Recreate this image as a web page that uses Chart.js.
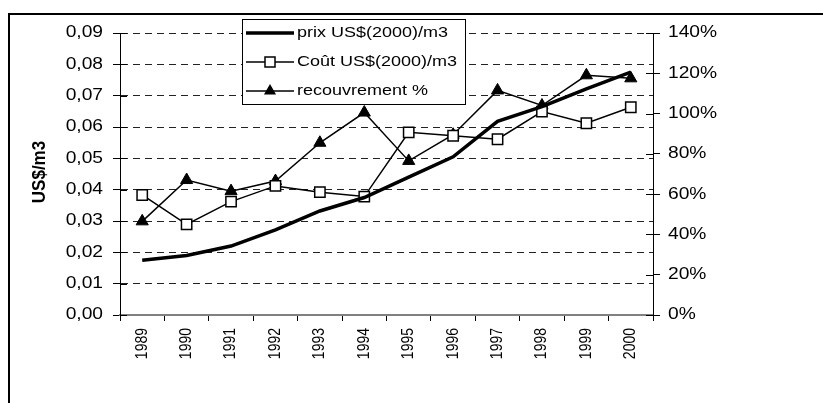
<!DOCTYPE html>
<html>
<head>
<meta charset="utf-8">
<script src="https://cdn.jsdelivr.net/npm/chart.js@4/dist/chart.umd.min.js"></script>
<style>
body { margin: 0; background: #fff; overflow: hidden; }
#frame { position: absolute; left: 8px; top: 13px; width: 900px; height: 500px; border-top: 2px solid #000; border-left: 2px solid #000; }
#wrap { position: absolute; left: 0; top: 0; width: 823px; height: 403px; }
</style>
</head>
<body>
<div id="frame"></div>
<div id="wrap"><canvas id="chart" width="823" height="403"></canvas></div>
<script>
const years = ['1989', '1990', '1991', '1992', '1993', '1994', '1995', '1996', '1997', '1998', '1999', '2000'];
const prix = [0.0175, 0.0190, 0.0220, 0.0272, 0.0332, 0.0375, 0.0440, 0.0505, 0.0618, 0.0665, 0.0722, 0.0775];
const cout = [0.0383, 0.0289, 0.0362, 0.0412, 0.0392, 0.0378, 0.0583, 0.0572, 0.0561, 0.0649, 0.0612, 0.0663];
const recouvrement = [46.5, 67, 61.5, 66.5, 85.5, 100.5, 76.5, 89.5, 111.5, 104, 119, 117.5];
const leftTicks = ['0,00', '0,01', '0,02', '0,03', '0,04', '0,05', '0,06', '0,07', '0,08', '0,09'];
const rightTicks = ['0%', '20%', '40%', '60%', '80%', '100%', '120%', '140%'];
const legendLabels = ['prix US$(2000)/m3', 'Coût US$(2000)/m3', 'recouvrement %'];

const FONT = '"Liberation Sans", Arial, sans-serif';

// text in the picture is a bit wider than the font, so scale it
function wideText(c, txt, x, y, align, sx) {
    c.save();
    c.translate(x, y);
    c.scale(sx, 1);
    c.textAlign = align;
    c.fillText(txt, 0, 0);
    c.restore();
}

function upText(c, txt, x, y, align, sy) {
    c.save();
    c.translate(x, y);
    c.rotate(-Math.PI / 2);
    c.scale(1, sy);
    c.textAlign = align;
    c.fillText(txt, 0, 0);
    c.restore();
}

function marker(c, style, x, y) {
    c.save();
    c.lineWidth = 1.5;
    c.strokeStyle = '#000';
    if (style === 'rect') {
        c.fillStyle = '#fff';
        c.fillRect(x - 5, y - 5, 10, 10);
        c.strokeRect(x - 5, y - 5, 10, 10);
    } else if (style === 'triangle') {
        const r = 7;
        c.fillStyle = '#000';
        c.beginPath();
        c.moveTo(x, y - r);
        c.lineTo(x + r * 0.866, y + r / 2);
        c.lineTo(x - r * 0.866, y + r / 2);
        c.closePath();
        c.fill();
    }
    c.restore();
}

const textPlugin = {
    id: 'textPlugin',
    afterDraw(chart) {
        const c = chart.ctx;
        const x = chart.scales.x, yl = chart.scales.y, yr = chart.scales.y1;
        c.save();
        c.fillStyle = '#000';
        c.textBaseline = 'middle';

        c.font = '16px ' + FONT;
        yl.ticks.forEach((t, i) => wideText(c, leftTicks[i], 103, yl.getPixelForTick(i), 'right', 1.2));
        yr.ticks.forEach((t, i) => wideText(c, rightTicks[i], 668, yr.getPixelForTick(i), 'left', 1.2));

        // tick marks cross the axes
        c.strokeStyle = '#000';
        c.lineWidth = 1;
        yr.ticks.forEach((t, i) => {
            const py = Math.round(yr.getPixelForTick(i)) + 0.5;
            c.beginPath();
            c.moveTo(yr.left - 7, py);
            c.lineTo(yr.left, py);
            c.stroke();
        });
        yl.ticks.forEach((t, i) => {
            const py = Math.round(yl.getPixelForTick(i)) + 0.5;
            c.beginPath();
            c.moveTo(yl.right, py);
            c.lineTo(yl.right + 7, py);
            c.stroke();
        });

        c.font = '14px ' + FONT;
        years.forEach((lab, i) => upText(c, lab, x.getPixelForValue(i), 328, 'right', 1.15));

        c.font = 'bold 17px ' + FONT;
        upText(c, 'US$/m3', 40, 172, 'center', 1.1);

        // legend box
        c.fillStyle = '#fff';
        c.fillRect(242, 19, 223, 85);
        c.strokeStyle = '#000';
        c.lineWidth = 1;
        c.strokeRect(242.5, 19.5, 223, 85);
        chart.data.datasets.forEach((ds, i) => {
            const ly = 33 + i * 29;
            c.strokeStyle = '#000';
            c.lineWidth = ds.borderWidth;
            c.beginPath();
            c.moveTo(246, ly);
            c.lineTo(294, ly);
            c.stroke();
            if (ds.pointRadius > 0) marker(c, ds.pointStyle, 270, ly);
            c.fillStyle = '#000';
            c.font = '15px ' + FONT;
            wideText(c, legendLabels[i], 297, ly, 'left', 1.2);
        });
        c.restore();
    }
};

const chart = new Chart(document.getElementById('chart').getContext('2d'), {
    type: 'line',
    data: {
        labels: years,
        datasets: [{
            label: legendLabels[0],
            data: prix,
            yAxisID: 'y',
            borderColor: '#000',
            borderWidth: 3.5,
            pointRadius: 0,
            tension: 0
        }, {
            label: legendLabels[1],
            data: cout,
            yAxisID: 'y',
            borderColor: '#000',
            borderWidth: 1.5,
            pointStyle: 'rect',
            pointRadius: 7.3,
            pointBackgroundColor: '#fff',
            pointBorderColor: '#000',
            pointBorderWidth: 1.5,
            tension: 0
        }, {
            label: legendLabels[2],
            data: recouvrement,
            yAxisID: 'y1',
            borderColor: '#000',
            borderWidth: 1.5,
            pointStyle: 'triangle',
            pointRadius: 7,
            pointBackgroundColor: '#000',
            pointBorderColor: '#000',
            pointBorderWidth: 1,
            tension: 0
        }]
    },
    options: {
        responsive: false,
        animation: false,
        layout: { padding: { top: 33, left: 0, right: 0, bottom: 0 } },
        scales: {
            x: {
                type: 'category',
                offset: true,
                ticks: { display: false },
                grid: { offset: true, drawOnChartArea: false, tickLength: 6, color: '#000', tickColor: '#000' },
                border: { color: '#808080', width: 2 },
                afterFit: s => { s.height = 88; }
            },
            y: {
                position: 'left',
                min: 0,
                max: 0.09,
                ticks: { display: false, stepSize: 0.01 },
                grid: {
                    color: ctx => (ctx.tick && ctx.tick.value === 0) ? 'rgba(0,0,0,0)' : '#222',
                    tickColor: '#000',
                    tickLength: 7,
                    tickBorderDash: []
                },
                border: { color: '#000', width: 1, dash: [7, 5] },
                afterFit: s => { s.width = 120; }
            },
            y1: {
                position: 'right',
                min: 0,
                max: 140,
                ticks: { display: false, stepSize: 20 },
                grid: { drawOnChartArea: false, tickLength: 7, color: '#000', tickColor: '#000' },
                border: { color: '#000', width: 1 },
                afterFit: s => { s.width = 170; }
            }
        },
        plugins: {
            legend: { display: false },
            tooltip: { enabled: false }
        }
    },
    plugins: [textPlugin]
});
</script>
</body>
</html>
